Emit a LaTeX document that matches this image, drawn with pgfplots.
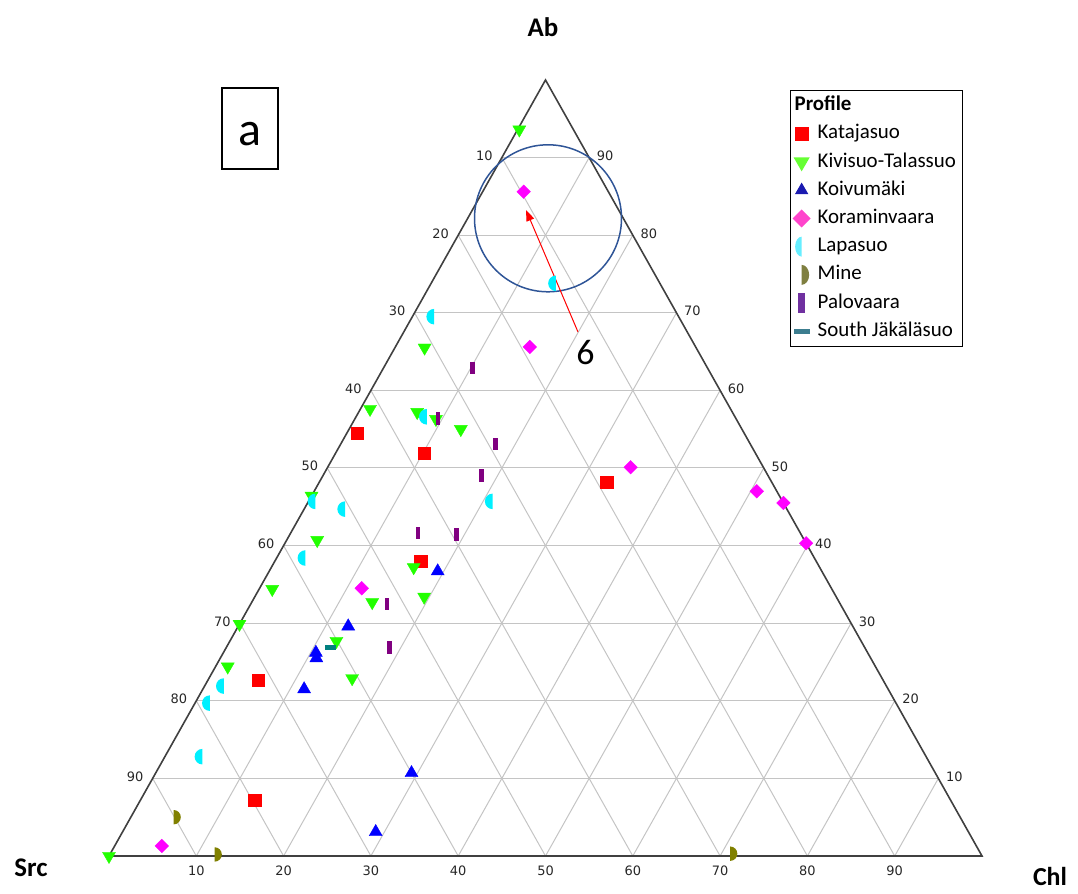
\documentclass[border=0pt]{standalone}
\usepackage{fontspec}
\setmainfont{Carlito}
\newfontfamily\tickfont{DejaVu Sans}
\usepackage{pgfplots}
\pgfplotsset{compat=1.18}
\usepackage{pgfplotstable}
\usetikzlibrary{arrows.meta}

\definecolor{kat}{HTML}{FF0000}
\definecolor{kiv}{HTML}{22FF00}
\definecolor{koi}{HTML}{0000FF}
\definecolor{kor}{HTML}{FF00FF}
\definecolor{lap}{HTML}{00F0FF}
\definecolor{min}{HTML}{808000}
\definecolor{pal}{HTML}{800080}
\definecolor{sou}{HTML}{008080}
\definecolor{Lkiv}{HTML}{66FF33}
\definecolor{Lkoi}{HTML}{1A1AB0}
\definecolor{Lkor}{HTML}{FF44CC}
\definecolor{Llap}{HTML}{66EEFF}
\definecolor{Lmin}{HTML}{7F7F40}
\definecolor{Lpal}{HTML}{7030A0}
\definecolor{Lsou}{HTML}{3C7D8F}
\definecolor{gridc}{HTML}{C4C4C4}
\definecolor{tric}{HTML}{404040}
\definecolor{circ}{HTML}{2F5597}

\pgfdeclareplotmark{halfL}{\pgfpathmoveto{\pgfqpoint{0pt}{\pgfplotmarksize}}\pgfpatharc{90}{270}{\pgfplotmarksize}\pgfpathclose\pgfusepathqfill}
\pgfdeclareplotmark{halfR}{\pgfpathmoveto{\pgfqpoint{0pt}{\pgfplotmarksize}}\pgfpatharc{90}{-90}{\pgfplotmarksize}\pgfpathclose\pgfusepathqfill}
\pgfdeclareplotmark{vbar}{\pgfpathrectangle{\pgfqpoint{-0.37\pgfplotmarksize}{-\pgfplotmarksize}}{\pgfqpoint{0.74\pgfplotmarksize}{2\pgfplotmarksize}}\pgfusepathqfill}
\pgfdeclareplotmark{hbar}{\pgfpathrectangle{\pgfqpoint{-\pgfplotmarksize}{-0.45\pgfplotmarksize}}{\pgfqpoint{2\pgfplotmarksize}{0.9\pgfplotmarksize}}\pgfusepathqfill}

\pgfplotsset{legend image code/.code={\path[draw=none,fill=none] (-9bp,-6bp) rectangle (9bp,6bp); \draw[#1] plot coordinates {(0bp,0bp)};}}

% ternary data: Ab (%), Chl (%); Src = 100 - Ab - Chl
\pgfplotstableread{
Ab Chl
54.5 1.2
51.9 10.2
48.2 32.9
38.0 16.7
22.7 5.7
7.2 13.1
}\katajasuo
\pgfplotstableread{
Ab Chl
93.6 0.2
65.5 3.4
57.6 1.1
57.2 6.7
56.3 9.3
55.0 12.8
46.4 0.0
40.7 3.5
37.2 16.3
33.4 19.4
34.4 1.5
32.7 13.8
29.9 0.0
27.7 12.2
24.4 1.4
22.9 16.4
0.0 0.0
}\kivisuo
\pgfplotstableread{
Ab Chl
36.7 19.3
29.6 12.6
26.2 10.6
25.5 11.0
21.5 11.6
10.7 29.3
3.1 29.0
}\koivumaki
\pgfplotstableread{
Ab Chl
85.6 4.7
65.6 15.4
50.1 34.7
47.0 50.7
45.5 54.5
40.3 59.7
34.5 11.7
1.3 5.4
}\koraminvaara
\pgfplotstableread{
Ab Chl
73.8 14.3
69.5 2.5
56.6 8.1
45.7 21.1
45.7 0.8
44.7 4.7
38.4 3.3
21.9 2.2
19.7 1.7
12.8 4.3
}\lapasuo
\pgfplotstableread{
Ab Chl
5.0 4.9
0.2 12.0
0.3 71.0
}\mine
\pgfplotstableread{
Ab Chl
62.9 10.2
56.4 9.5
53.1 17.7
49.0 18.2
41.6 14.6
41.4 19.1
32.5 15.6
26.9 18.7
}\palovaara
\pgfplotstableread{
Ab Chl
26.9 11.9
}\southj

\begin{document}
\begin{tikzpicture}
\begin{axis}[
  scale only axis, width=1078bp, height=893bp,
  xmin=-12.4857, xmax=110.9966, ymin=-4.7680, ymax=110.3093,
  hide axis, clip=false,
  legend cell align=left,
  legend style={at={(rel axis cs:0.73284,0.89922)}, anchor=north west,
    draw=black, line width=1.3bp, fill=white,
    font=\fontsize{21}{24}\selectfont,
    inner xsep=2bp, inner ysep=4.5bp, row sep=7.2bp, column sep=5.5bp,
    nodes={inner sep=1.5bp, text height=14bp, text depth=4bp}},
]
\path (rel axis cs:0,0) rectangle (rel axis cs:1,1);
% grid
\pgfplotsinvokeforeach{10,20,30,40,50,60,70,80,90}{
  \draw[gridc, line width=1bp] (axis cs:{#1/2},{#1}) -- (axis cs:{100-#1/2},{#1});
  \draw[gridc, line width=1bp] (axis cs:{#1},0) -- (axis cs:{50+#1/2},{100-#1});
  \draw[gridc, line width=1bp] (axis cs:{100-#1},0) -- (axis cs:{(100-#1)/2},{100-#1});
  \node[font=\tickfont\fontsize{13}{15}\selectfont, text=black!85, inner sep=0pt, xshift=-17.5bp, yshift=1.8bp] at (axis cs:{(100-#1)/2},{100-#1}) {#1};
  \node[font=\tickfont\fontsize{13}{15}\selectfont, text=black!85, inner sep=0pt, xshift=16bp, yshift=1.6bp] at (axis cs:{100-#1/2},{#1}) {#1};
  \node[font=\tickfont\fontsize{13}{15}\selectfont, text=black!85, inner sep=0pt, yshift=-14.7bp] at (axis cs:{#1},0) {#1};
}
\draw[tric, line width=1.6bp, line join=miter] (axis cs:0,0) -- (axis cs:100,0) -- (axis cs:50,100) -- cycle;
\draw[circ, line width=1.5bp] (rel axis cs:0.50835,0.75554) circle[radius=73.5bp];

% data
\addplot[only marks, mark=square*, mark size=6.1bp, color=kat, mark options={draw=none, fill=kat}, forget plot] table[x expr=\thisrow{Chl}+0.5*\thisrow{Ab}, y=Ab] \katajasuo;
\addplot[only marks, mark=triangle*, mark size=7.5bp, color=kiv, mark options={draw=none, fill=kiv, rotate=180}, forget plot] table[x expr=\thisrow{Chl}+0.5*\thisrow{Ab}, y=Ab] \kivisuo;
\addplot[only marks, mark=triangle*, mark size=7.5bp, color=koi, mark options={draw=none, fill=koi}, forget plot] table[x expr=\thisrow{Chl}+0.5*\thisrow{Ab}, y=Ab] \koivumaki;
\addplot[only marks, mark=square*, mark size=4.8bp, color=kor, mark options={draw=none, fill=kor, rotate=45}, forget plot] table[x expr=\thisrow{Chl}+0.5*\thisrow{Ab}, y=Ab] \koraminvaara;
\addplot[only marks, mark=halfL, mark size=7.8bp, color=lap, mark options={draw=none, fill=lap}, forget plot] table[x expr=\thisrow{Chl}+0.5*\thisrow{Ab}, y=Ab] \lapasuo;
\addplot[only marks, mark=halfR, mark size=7.2bp, color=min, mark options={draw=none, fill=min}, forget plot] table[x expr=\thisrow{Chl}+0.5*\thisrow{Ab}, y=Ab] \mine;
\addplot[only marks, mark=vbar, mark size=6.3bp, color=pal, mark options={draw=none, fill=pal}, forget plot] table[x expr=\thisrow{Chl}+0.5*\thisrow{Ab}, y=Ab] \palovaara;
\addplot[only marks, mark=hbar, mark size=5.5bp, color=sou, mark options={draw=none, fill=sou}, forget plot] table[x expr=\thisrow{Chl}+0.5*\thisrow{Ab}, y=Ab] \southj;

% legend
\addlegendimage{empty legend}
\addlegendentry{\hspace*{-23bp}\bfseries Profile}
\addlegendimage{color=kat, mark=square*, mark size=6.2bp, mark options={fill=kat, draw=kat}}
\addlegendentry{Katajasuo}
\addlegendimage{color=Lkiv, mark=triangle*, mark size=8bp, mark options={fill=Lkiv, draw=Lkiv, rotate=180}}
\addlegendentry{Kivisuo-Talassuo\hspace*{3bp}}
\addlegendimage{color=Lkoi, mark=triangle*, mark size=6.4bp, mark options={fill=Lkoi, draw=Lkoi}}
\addlegendentry{Koivumäki}
\addlegendimage{color=Lkor, mark=square*, mark size=5.7bp, mark options={fill=Lkor, draw=Lkor, rotate=45}}
\addlegendentry{Koraminvaara}
\addlegendimage{color=Llap, mark=halfL, mark size=10bp, mark options={fill=Llap, draw=Llap, xscale=0.65}}
\addlegendentry{Lapasuo}
\addlegendimage{color=Lmin, mark=halfR, mark size=10bp, mark options={fill=Lmin, draw=Lmin, xscale=0.75}}
\addlegendentry{Mine}
\addlegendimage{color=Lpal, mark=vbar, mark size=10bp, mark options={fill=Lpal, draw=Lpal, xscale=0.9}}
\addlegendentry{Palovaara}
\addlegendimage{color=Lsou, mark=hbar, mark size=8bp, mark options={fill=Lsou, draw=Lsou, yscale=0.75}}
\addlegendentry{South Jäkäläsuo}

% annotations
\draw[red, line width=1bp, -{Triangle[length=11bp,width=8bp]}] (rel axis cs:0.53618,0.62822) -- (rel axis cs:0.48794,0.76484);
\node[font=\fontsize{36}{40}\selectfont, inner sep=0pt] at (rel axis cs:0.54314,0.60470) {6};
\draw[black, line width=1.5bp] (rel axis cs:0.20594,0.90146) rectangle (rel axis cs:0.25788,0.81075);
\node[font=\fontsize{48}{52}\selectfont, inner sep=0pt] at (rel axis cs:0.23145,0.85028) {a};
\node[font=\fontsize{27}{30}\selectfont\bfseries, inner sep=0pt] at (rel axis cs:0.50371,0.96977) {Ab};
\node[font=\fontsize{27}{30}\selectfont\bfseries, inner sep=0pt] at (rel axis cs:0.02876,0.02800) {Src};
\node[font=\fontsize{26}{30}\selectfont\bfseries, inner sep=0pt] at (rel axis cs:0.97403,0.01900) {Chl};
\end{axis}
\end{tikzpicture}
\end{document}
